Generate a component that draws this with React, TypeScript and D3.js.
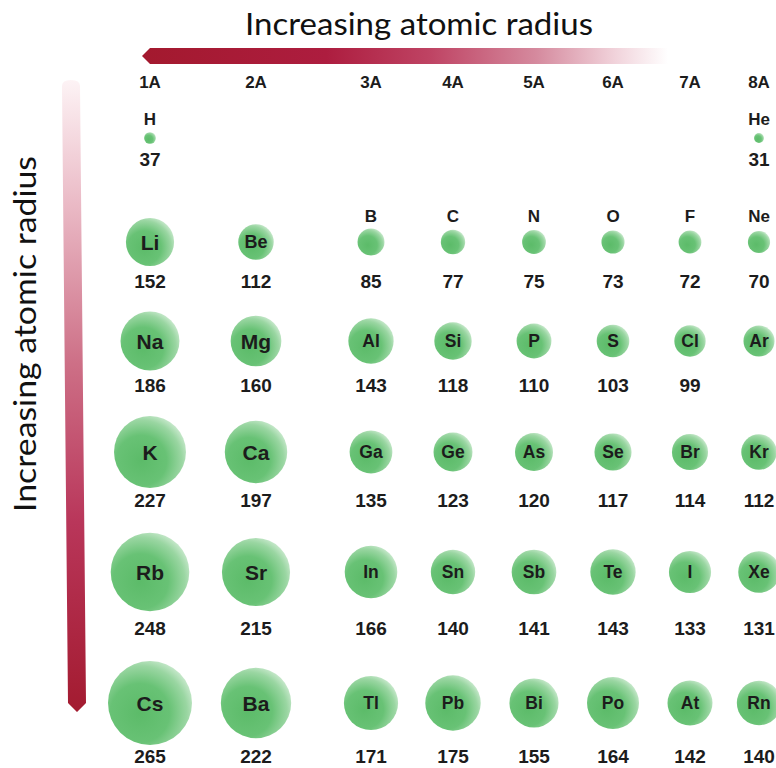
import React from "react";
import * as d3 from "d3";

const groups = ["1A", "2A", "3A", "4A", "5A", "6A", "7A", "8A"];
const periods = [1, 2, 3, 4, 5, 6];
const symbolsByPeriod: string[][] = [
  ["H", "", "", "", "", "", "", "He"],
  ["Li", "Be", "B", "C", "N", "O", "F", "Ne"],
  ["Na", "Mg", "Al", "Si", "P", "S", "Cl", "Ar"],
  ["K", "Ca", "Ga", "Ge", "As", "Se", "Br", "Kr"],
  ["Rb", "Sr", "In", "Sn", "Sb", "Te", "I", "Xe"],
  ["Cs", "Ba", "Tl", "Pb", "Bi", "Po", "At", "Rn"],
];
const radiiByPeriod: (number | null)[][] = [
  [37, null, null, null, null, null, null, 31],
  [152, 112, 85, 77, 75, 73, 72, 70],
  [186, 160, 143, 118, 110, 103, 99, 98],
  [227, 197, 135, 123, 120, 117, 114, 112],
  [248, 215, 166, 140, 141, 143, 133, 131],
  [265, 222, 171, 175, 155, 164, 142, 140],
];
const hiddenValues = ["Ar"];
const titleText = "Increasing atomic radius";

const W = 776;
const H = 768;

const x = d3.scaleOrdinal<string, number>().domain(groups).range([150, 256, 371, 453, 534, 613, 690, 759]);
const yCircle = d3.scaleOrdinal<number, number>().domain(periods).range([138, 242, 341, 452, 572, 703]);
const yValue = d3.scaleOrdinal<number, number>().domain(periods).range([159, 281, 385, 500, 628, 756]);
const ySymbolAbove = d3.scaleOrdinal<number, number>().domain(periods).range([119, 216, 216, 216, 216, 216]);
const r = d3.scaleLinear().domain([0, 265]).range([0, 42]);

type El = { sym: string; rad: number; group: string; period: number; gi: number };
const elements: El[] = [];
periods.forEach((p, pi) => {
  groups.forEach((g, gi) => {
    const rad = radiiByPeriod[pi][gi];
    if (rad != null) elements.push({ sym: symbolsByPeriod[pi][gi], rad, group: g, period: p, gi });
  });
});

const font = "'Liberation Sans', Arial, sans-serif";
const ink = "#1c1c1c";

export default function App() {
  const topArrow = "M142,56 L150,48 L668,48 L668,64 L150,64 Z";
  const sideArrow = "M62,86 Q62,80 71,80 Q80,80 80,86 L86,703 L77,712 L68,703 Z";
  return (
    <svg width={W} height={H} style={{ position: "absolute", left: 0, top: 0, display: "block", background: "#fff" }}>
      <defs>
        <linearGradient id="hgrad" x1="142" x2="668" y1="0" y2="0" gradientUnits="userSpaceOnUse">
          <stop offset="0" stopColor="#a3192e" />
          <stop offset="0.35" stopColor="#ad1d3f" />
          <stop offset="0.55" stopColor="#bf4464" />
          <stop offset="0.75" stopColor="#d58a9e" />
          <stop offset="0.9" stopColor="#f1d3db" />
          <stop offset="1" stopColor="#ffffff" />
        </linearGradient>
        <linearGradient id="vgrad" x1="0" x2="0" y1="80" y2="712" gradientUnits="userSpaceOnUse">
          <stop offset="0" stopColor="#fdf3f5" />
          <stop offset="0.2" stopColor="#eab9c5" />
          <stop offset="0.45" stopColor="#cd6f86" />
          <stop offset="0.7" stopColor="#b9365a" />
          <stop offset="1" stopColor="#a31b30" />
        </linearGradient>
        <radialGradient id="ball" cx="0.38" cy="0.62" r="0.78" fx="0.38" fy="0.62">
          <stop offset="0" stopColor="#5cbb69" />
          <stop offset="0.45" stopColor="#68c275" />
          <stop offset="0.72" stopColor="#9ad6a2" />
          <stop offset="1" stopColor="#f2faf3" />
        </radialGradient>
      </defs>

      <text x={419} y={35} textAnchor="middle" fontFamily="Lato, 'Open Sans', sans-serif" fontSize={31} fill="#111" textLength={348} lengthAdjust="spacingAndGlyphs">
        {titleText}
      </text>
      <path d={topArrow} fill="url(#hgrad)" />

      <text transform="translate(36,334) rotate(-90)" textAnchor="middle" fontFamily="Lato, 'Open Sans', sans-serif" fontSize={31} fill="#111" textLength={356} lengthAdjust="spacingAndGlyphs">
        {titleText}
      </text>
      <path d={sideArrow} fill="url(#vgrad)" />

      {groups.map((g) => (
        <text key={g} x={x(g)} y={88} textAnchor="middle" fontFamily={font} fontWeight="bold" fontSize={17} fill={ink}>
          {g}
        </text>
      ))}

      {elements.map((e) => {
        const cx = x(e.group);
        const cy = yCircle(e.period);
        const rr = r(e.rad);
        const inside = e.rad >= 90;
        const fs = e.gi < 2 ? (rr > 20 ? 21 : 18) : 17.5;
        return (
          <g key={e.sym}>
            <circle cx={cx} cy={cy} r={rr} fill="url(#ball)" />
            {inside ? (
              <text x={cx} y={cy} dy="0.36em" textAnchor="middle" fontFamily={font} fontWeight="bold" fontSize={fs} fill={ink}>
                {e.sym}
              </text>
            ) : (
              <text x={cx} y={ySymbolAbove(e.period)} dy="0.36em" textAnchor="middle" fontFamily={font} fontWeight="bold" fontSize={17} fill={ink}>
                {e.sym}
              </text>
            )}
            {hiddenValues.indexOf(e.sym) < 0 && (
              <text x={cx} y={yValue(e.period)} dy="0.36em" textAnchor="middle" fontFamily={font} fontWeight="bold" fontSize={19} fill={ink}>
                {e.rad}
              </text>
            )}
          </g>
        );
      })}
    </svg>
  );
}
